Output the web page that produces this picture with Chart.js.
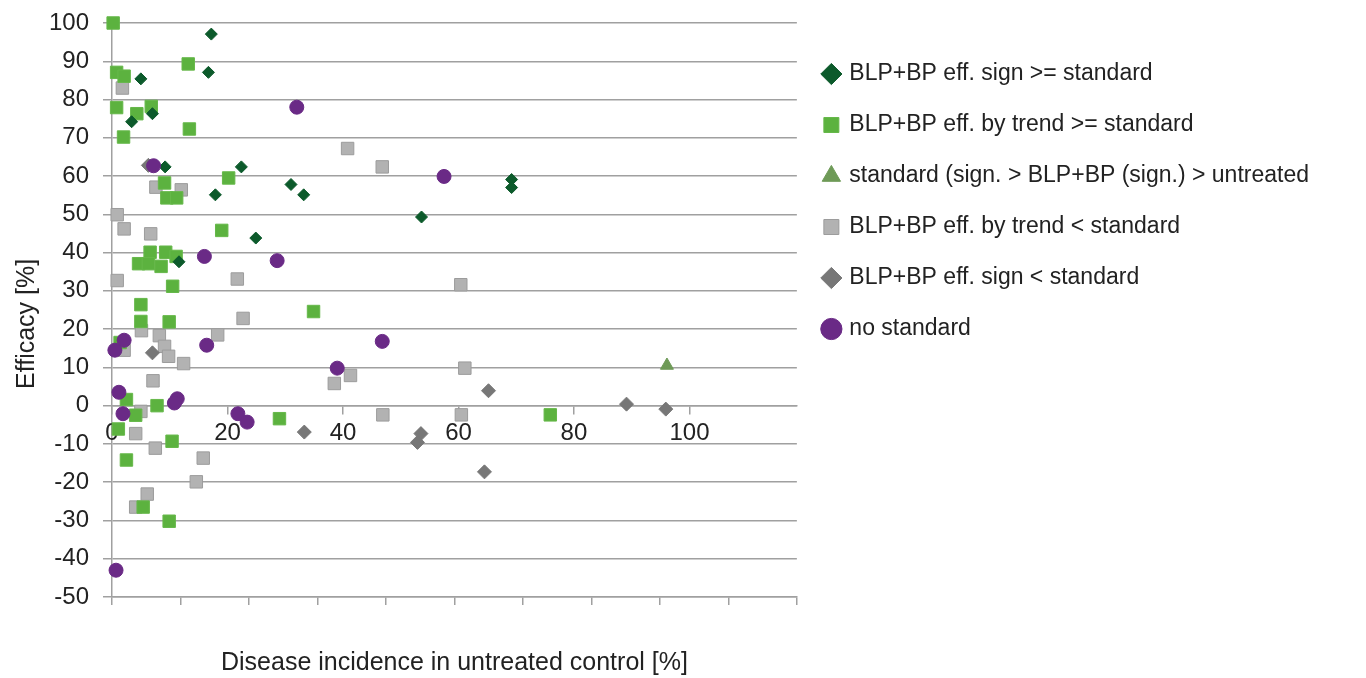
<!DOCTYPE html>
<html>
<head>
<meta charset="utf-8">
<script src="https://cdn.jsdelivr.net/npm/chart.js@4.4.1/dist/chart.umd.min.js"></script>
<style>
  html, body { margin: 0; padding: 0; background: #fff; }
  #wrap { width: 1366px; height: 678px; }
</style>
</head>
<body>
<div id="wrap"><canvas id="efficacy"></canvas></div>
<script>
// [disease incidence in untreated control %, efficacy %]
const signGeStandard = [
  [17.2, 97.1], [16.7, 87.1], [5.0, 85.4], [7.0, 76.3], [3.4, 74.2], [9.2, 62.4],
  [22.4, 62.4], [17.9, 55.1], [31.0, 57.8], [33.2, 55.1], [53.6, 49.3], [24.9, 43.8],
  [11.6, 37.6], [69.2, 59.1], [69.2, 57.0]
];
const trendGeStandard = [
  [0.2, 100], [0.8, 87.1], [2.1, 86.1], [13.2, 89.3], [0.8, 77.9], [4.3, 76.3],
  [6.8, 78.2], [13.4, 72.3], [2.0, 70.2], [20.2, 59.5], [9.1, 58.2], [9.5, 54.3],
  [11.2, 54.3], [19.0, 45.8], [6.6, 40.1], [9.3, 40.1], [11.1, 39.0], [4.6, 37.1],
  [6.3, 37.1], [8.5, 36.4], [10.5, 31.2], [5.0, 26.4], [5.0, 22.0], [9.9, 21.9],
  [1.4, 16.5], [2.5, 1.6], [7.8, 0.0], [34.9, 24.6], [29.0, -3.4], [4.1, -2.5],
  [1.1, -6.1], [10.4, -9.3], [2.5, -14.2], [5.4, -26.5], [9.9, -30.2], [75.9, -2.4]
];
const standardBetter = [
  [96.1, 10.5]
];
const trendLtStandard = [
  [1.8, 83.0], [7.6, 57.1], [12.0, 56.4], [0.9, 49.9], [2.1, 46.2], [6.7, 44.9],
  [0.9, 32.7], [21.7, 33.1], [22.7, 22.8], [5.1, 19.6], [8.2, 18.3], [18.3, 18.5],
  [9.1, 15.5], [2.1, 14.5], [9.8, 12.9], [12.4, 11.0], [7.1, 6.5], [5.0, -1.5],
  [4.1, -7.3], [7.5, -11.1], [15.8, -13.7], [14.6, -19.9], [6.1, -23.1], [4.1, -26.5],
  [40.8, 67.2], [46.8, 62.4], [41.3, 7.9], [38.5, 5.8], [46.9, -2.4], [60.4, 31.6],
  [61.1, 9.8], [60.5, -2.4]
];
const signLtStandard = [
  [6.3, 62.8], [7.0, 13.8], [33.3, -6.9], [53.5, -7.3], [52.9, -9.6], [64.5, -17.3],
  [65.2, 3.9], [89.1, 0.4], [95.9, -0.9]
];
const noStandard = [
  [7.2, 62.7], [32.0, 78.0], [57.5, 59.9], [16.0, 39.0], [28.6, 37.9], [2.1, 17.1],
  [0.5, 14.5], [16.4, 15.8], [46.8, 16.8], [39.0, 9.8], [1.2, 3.5], [11.3, 1.8],
  [10.8, 0.7], [1.9, -2.1], [21.8, -2.1], [23.4, -4.3], [0.7, -43.0]
];

const seriesNames = [
  'BLP+BP eff. sign >= standard',
  'BLP+BP eff. by trend >= standard',
  'standard (sign. > BLP+BP (sign.) > untreated',
  'BLP+BP eff. by trend < standard',
  'BLP+BP eff. sign < standard',
  'no standard'
];
const xTickValues = [0, 20, 40, 60, 80, 100];
const xMax = 118.6;
const yMin = -50, yMax = 100, yStep = 10;
const bottomDivisions = 10;

const font = 'Liberation Sans, Arial, sans-serif';
const gridGrey = '#a0a0a0';
const toPoints = rows => rows.map(r => ({x: r[0], y: r[1]}));

function series(label, rows, style, radius, fill, border, order) {
  return {
    label: label,
    data: toPoints(rows),
    pointStyle: style,
    pointRadius: radius,
    pointHoverRadius: radius,
    backgroundColor: fill,
    borderColor: border,
    borderWidth: 1,
    clip: false,
    order: order
  };
}

const ctx = document.getElementById('efficacy');
new Chart(ctx, {
  type: 'scatter',
  data: {
    datasets: [
      series(seriesNames[0], signGeStandard, 'rectRot', 6, '#0c5a2b', '#0c5a2b', 1),
      series(seriesNames[1], trendGeStandard, 'rect', 8.8, '#5cb23f', '#66b84a', 2),
      series(seriesNames[2], standardBetter, 'triangle', 7.5, '#6e9a57', '#6e9a57', 3),
      series(seriesNames[3], trendLtStandard, 'rect', 8.8, '#b2b2b2', '#9c9c9c', 5),
      series(seriesNames[4], signLtStandard, 'rectRot', 7, '#777777', '#777777', 4),
      series(seriesNames[5], noStandard, 'circle', 7, '#6a2a86', '#6a2a86', 0)
    ]
  },
  options: {
    responsive: true,
    maintainAspectRatio: false,
    animation: false,
    layout: { padding: { top: 23, right: 47, bottom: 0, left: 0 } },
    plugins: {
      tooltip: { enabled: false },
      legend: {
        position: 'right',
        align: 'start',
        maxWidth: 700,
        title: { display: true, text: '', font: { size: 8, lineHeight: 1 }, padding: { top: 3.5, bottom: 0 } },
        labels: {
          usePointStyle: true,
          boxWidth: 13,
          boxHeight: 15,
          padding: 28,
          color: '#222',
          font: { family: font, size: 23 },
          sort: (a, b) => a.datasetIndex - b.datasetIndex
        }
      }
    },
    scales: {
      y: {
        type: 'linear',
        position: 'left',
        min: yMin,
        max: yMax,
        afterFit: scale => { scale.width = 112; scale.paddingTop = 0; },
        ticks: { stepSize: yStep, padding: 14, color: '#222', font: { family: font, size: 24 } },
        grid: { color: gridGrey, lineWidth: 1.5, tickLength: 9 },
        border: { color: gridGrey, width: 1.5 },
        title: {
          display: true,
          text: 'Efficacy [%]    ',
          color: '#222',
          padding: { top: 12, bottom: 0 },
          font: { family: font, size: 25 }
        }
      },
      x: {
        type: 'linear',
        position: { y: 0 },
        min: 0,
        max: xMax,
        afterBuildTicks: scale => { scale.ticks = xTickValues.map(v => ({ value: v })); },
        ticks: { padding: 5, color: '#222', font: { family: font, size: 24 } },
        grid: { drawOnChartArea: false, color: gridGrey, lineWidth: 1.5, tickLength: 8 },
        border: { color: gridGrey, width: 1.5 }
      },
      x2: {
        type: 'linear',
        axis: 'x',
        position: 'bottom',
        min: 0,
        max: bottomDivisions,
        afterFit: scale => { scale.height = 81; },
        ticks: { stepSize: 1, display: false },
        grid: { drawOnChartArea: false, color: gridGrey, lineWidth: 1.5, tickLength: 8 },
        border: { color: gridGrey, width: 1.5 },
        title: {
          display: true,
          text: 'Disease incidence in untreated control [%]',
          color: '#222',
          padding: { top: 0, bottom: 0 },
          font: { family: font, size: 25 }
        }
      }
    }
  }
});
</script>
</body>
</html>
